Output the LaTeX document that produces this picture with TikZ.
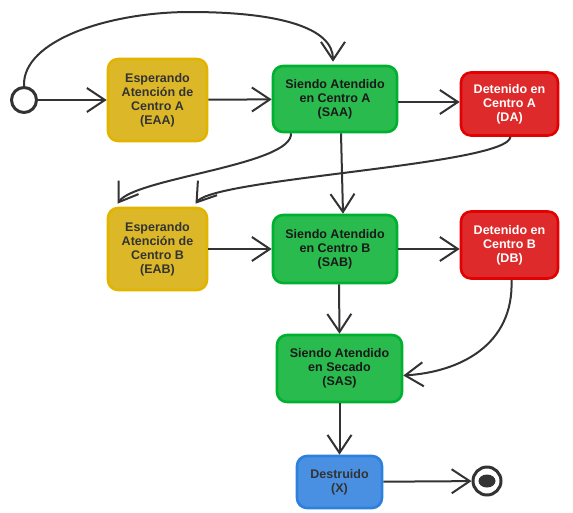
\documentclass[tikz,border=0pt]{standalone}
\usepackage{fontspec}
\setmainfont{Liberation Sans}
\usetikzlibrary{arrows.meta}

\definecolor{ink}{RGB}{51,51,51}
\definecolor{waitfill}{RGB}{220,184,40}
\definecolor{waitline}{RGB}{226,180,0}
\definecolor{workfill}{RGB}{42,187,78}
\definecolor{workline}{RGB}{0,176,48}
\definecolor{stopfill}{RGB}{222,42,42}
\definecolor{stopline}{RGB}{226,0,0}
\definecolor{donefill}{RGB}{74,144,226}
\definecolor{doneline}{RGB}{46,128,222}

\tikzset{
  state/.style={rounded corners=10pt, line width=2.6pt, align=center,
    font=\fontsize{12.5}{14}\selectfont\bfseries, inner sep=0pt},
  waitbox/.style={state, fill=waitfill, draw=waitline, text=ink},
  workbox/.style={state, fill=workfill, draw=workline, text=black!90},
  stopbox/.style={state, fill=stopfill, draw=stopline, text=white},
  donebox/.style={state, fill=donefill, draw=doneline, text=ink},
  flow/.style={draw=ink, line width=2pt,
    -{Straight Barb[length=18pt,width=24pt,line width=2pt]}},
}

\begin{document}
\begin{tikzpicture}[x=1pt,y=-1pt]
\useasboundingbox (0,0) rectangle (573,512);

% initial and final pseudo-states
\node[circle, draw=ink, line width=3pt, fill=white, minimum size=25pt, inner sep=0pt] (start) at (24,100) {};
\node[circle, draw=ink, line width=3pt, fill=white, minimum size=28pt, inner sep=0pt] (fin) at (487,481) {};
\fill[ink] (fin.center) ellipse[x radius=8.5pt, y radius=6.5pt];

% states
\node[waitbox, minimum width=99pt, minimum height=82pt] (EAA) at (157.5,100) {Esperando\\Atención de\\Centro A\\(EAA)};
\node[workbox, minimum width=124pt, minimum height=66pt] (SAA) at (335,99) {Siendo Atendido\\en Centro A\\(SAA)};
\node[stopbox, minimum width=97pt, minimum height=63pt] (DA) at (509.5,104) {Detenido en\\Centro A\\(DA)};
\node[waitbox, minimum width=99pt, minimum height=82pt] (EAB) at (157.5,249) {Esperando\\Atención de\\Centro B\\(EAB)};
\node[workbox, minimum width=124pt, minimum height=68pt] (SAB) at (335,249) {Siendo Atendido\\en Centro B\\(SAB)};
\node[stopbox, minimum width=97pt, minimum height=67pt] (DB) at (509.5,245) {Detenido en\\Centro B\\(DB)};
\node[workbox, minimum width=125pt, minimum height=67pt] (SAS) at (339.5,368.5) {Siendo Atendido\\en Secado\\(SAS)};
\node[donebox, minimum width=85pt, minimum height=52pt] (X) at (339.5,482) {Destruido\\(X)};

% transitions (shifts are in page direction: positive yshift goes up)
\draw[flow] (start) -- (EAA);
\draw[flow] (start.north) .. controls (22,40) and (110,12) .. (190,12)
  .. controls (280,12) and (333,28) .. ([xshift=-2pt,yshift=3pt]SAA.north);
\draw[flow] (EAA) -- (SAA);
\draw[flow] ([yshift=-3pt]SAA.east) -- ([yshift=-3pt]SAA.east -| DA.west);
\draw[flow] ([xshift=-44pt]SAA.south) .. controls (293,165) and (135,178) .. ([xshift=-40pt,yshift=3pt]EAB.north);
\draw[flow] ([xshift=1pt]DA.south) .. controls (508,165) and (215,178) .. ([xshift=38pt,yshift=3pt]EAB.north);
\draw[flow] ([xshift=6pt]SAA.south) -- ([xshift=8pt]SAB.north);
\draw[flow] (EAB) -- (SAB);
\draw[flow] (SAB.east) -- (SAB.east -| DB.west);
\draw[flow] ([xshift=4pt]SAB.south) -- (SAS.north);
\draw[flow] ([xshift=2pt]DB.south) .. controls (514,345) and (460,372) .. ([yshift=-7pt]SAS.east);
\draw[flow] (SAS) -- (X);
\draw[flow] (X) -- (fin);
\end{tikzpicture}
\end{document}
